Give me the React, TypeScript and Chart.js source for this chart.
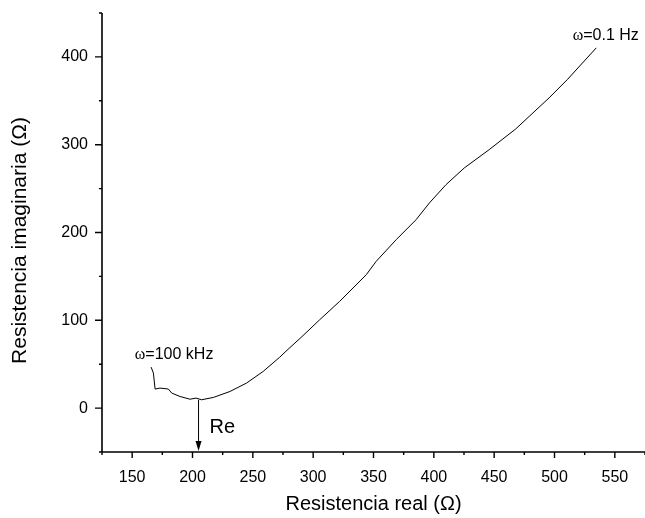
import React, { useEffect, useRef } from 'react';
import { Chart, registerables } from 'chart.js';

Chart.register(...registerables);

// Nyquist data: real part (Ω) and imaginary part (Ω)
const reValues = [165.7, 167.6, 169.0, 173.1, 180.0, 182.8, 189.7, 198.0, 202.9, 207.5, 217.2, 231.0, 244.8, 258.5, 272.3, 279.2, 290.0, 305.4, 321.9, 344.0, 352.2, 368.8, 385.3, 396.3, 410.1, 425.2, 445.9, 467.9, 495.5, 510.6, 534.6];
const imValues = [46.7, 39.9, 21.7, 22.8, 21.7, 17.1, 13.2, 10.1, 11.4, 9.5, 12.1, 18.9, 28.5, 41.7, 58.0, 67.0, 80.5, 100.6, 121.5, 151.9, 167.1, 191.8, 214.6, 233.6, 254.5, 273.5, 294.4, 318.0, 353.3, 374.1, 410.3];

const xMin = 125;
const xMax = 575;
const yMin = -50;
const yMax = 450;
const xMajorTicks = [150, 200, 250, 300, 350, 400, 450, 500, 550];
const xMinorTicks = [125, 175, 225, 275, 325, 375, 425, 475, 525, 575];
const yMajorTicks = [0, 100, 200, 300, 400];
const yMinorTicks = [-50, 50, 150, 250, 350, 450];

const reIntercept = 205;
const reInterceptIm = 9.5;
const reLabel = 'Re';
const highFreqLabel = { sym: 'ω', text: '=100 kHz', x: 152.2, y: 56.2 };
const lowFreqLabel = { sym: 'ω', text: '=0.1 Hz', x: 515.1, y: 418.7 };

const xTitle = 'Resistencia real (Ω)';
const yTitle = 'Resistencia imaginaria (Ω)';

const SANS = "'Liberation Sans', Arial, sans-serif";
const SERIF = "'Liberation Serif', 'Times New Roman', serif";

const axesPlugin = {
  id: 'originAxes',
  afterDraw(chart: any) {
    const { ctx } = chart;
    const xs = chart.scales.x;
    const ys = chart.scales.y;
    const left = xs.getPixelForValue(xMin);
    const right = xs.getPixelForValue(xMax);
    const bottom = ys.getPixelForValue(yMin);
    const top = ys.getPixelForValue(yMax);
    ctx.save();
    ctx.strokeStyle = '#000';
    ctx.lineWidth = 1.6;
    ctx.beginPath();
    ctx.moveTo(left, bottom);
    ctx.lineTo(right, bottom);
    ctx.moveTo(left, bottom);
    ctx.lineTo(left, top);
    ctx.stroke();

    ctx.lineWidth = 1.4;
    ctx.beginPath();
    xMajorTicks.forEach((v) => {
      const px = xs.getPixelForValue(v);
      ctx.moveTo(px, bottom);
      ctx.lineTo(px, bottom + 6);
    });
    xMinorTicks.forEach((v) => {
      const px = xs.getPixelForValue(v);
      ctx.moveTo(px, bottom);
      ctx.lineTo(px, bottom + 3);
    });
    yMajorTicks.forEach((v) => {
      const py = ys.getPixelForValue(v);
      ctx.moveTo(left, py);
      ctx.lineTo(left - 7, py);
    });
    yMinorTicks.forEach((v) => {
      const py = ys.getPixelForValue(v);
      ctx.moveTo(left, py);
      ctx.lineTo(left - 3, py);
    });
    ctx.stroke();

    // Arrow marking Re intercept
    const ax = xs.getPixelForValue(reIntercept);
    const ay0 = ys.getPixelForValue(reInterceptIm);
    ctx.lineWidth = 1;
    ctx.beginPath();
    ctx.moveTo(ax, ay0);
    ctx.lineTo(ax, bottom - 9);
    ctx.stroke();
    ctx.fillStyle = '#000';
    ctx.beginPath();
    ctx.moveTo(ax - 3, bottom - 11);
    ctx.lineTo(ax + 3, bottom - 11);
    ctx.lineTo(ax, bottom - 1);
    ctx.closePath();
    ctx.fill();

    ctx.font = `20px ${SANS}`;
    ctx.textAlign = 'left';
    ctx.textBaseline = 'alphabetic';
    ctx.fillText(reLabel, ax + 11, bottom - 19);

    [highFreqLabel, lowFreqLabel].forEach((lab) => {
      const lx = xs.getPixelForValue(lab.x);
      const ly = ys.getPixelForValue(lab.y);
      ctx.font = `16px ${SERIF}`;
      ctx.fillText(lab.sym, lx, ly);
      const w = ctx.measureText(lab.sym).width;
      ctx.font = `16px ${SANS}`;
      ctx.fillText(lab.text, lx + w, ly);
    });

    // Y axis title
    ctx.save();
    ctx.translate(20, (top + bottom) / 2 + 8);
    ctx.rotate(-Math.PI / 2);
    ctx.font = `21px ${SANS}`;
    ctx.textAlign = 'center';
    ctx.textBaseline = 'middle';
    ctx.fillText(yTitle, 0, 0);
    ctx.restore();

    ctx.restore();
  },
};

export default function App() {
  const canvasRef = useRef<HTMLCanvasElement | null>(null);

  useEffect(() => {
    if (!canvasRef.current) return;
    const points = reValues.map((x, i) => ({ x, y: imValues[i] }));
    const chart = new Chart(canvasRef.current, {
      type: 'scatter',
      data: {
        datasets: [
          {
            data: points,
            showLine: true,
            borderColor: '#000',
            borderWidth: 1,
            pointRadius: 0,
            tension: 0,
          },
        ],
      },
      options: {
        animation: false,
        responsive: false,
        devicePixelRatio: 1,
        layout: { padding: { top: 13, right: 0, left: 0, bottom: 0 } },
        plugins: { legend: { display: false }, tooltip: { enabled: false } },
        scales: {
          x: {
            type: 'linear',
            min: xMin,
            max: xMax,
            grid: { display: false, drawTicks: false },
            border: { display: false },
            afterBuildTicks: (scale: any) => {
              scale.ticks = xMajorTicks.map((v) => ({ value: v }));
            },
            afterFit: (scale: any) => {
              scale.height = 66;
              scale.paddingLeft = 0;
              scale.paddingRight = 0;
            },
            ticks: {
              color: '#000',
              padding: 16,
              maxRotation: 0,
              autoSkip: false,
              font: { family: SANS, size: 16 },
            },
            title: {
              display: true,
              text: xTitle,
              color: '#000',
              font: { family: SANS, size: 20 },
              padding: { top: 0, bottom: 2 },
            },
          },
          y: {
            type: 'linear',
            min: yMin,
            max: yMax,
            grid: { display: false, drawTicks: false },
            border: { display: false },
            afterBuildTicks: (scale: any) => {
              scale.ticks = yMajorTicks.map((v) => ({ value: v }));
            },
            afterFit: (scale: any) => {
              scale.width = 102;
              scale.paddingTop = 0;
              scale.paddingBottom = 0;
            },
            ticks: {
              color: '#000',
              padding: 14,
              autoSkip: false,
              font: { family: SANS, size: 16 },
            },
            title: { display: false },
          },
        },
      },
      plugins: [axesPlugin],
    });
    return () => chart.destroy();
  }, []);

  return (
    <div style={{ position: 'absolute', left: 0, top: 0, width: 645, height: 518, background: '#fff' }}>
      <canvas ref={canvasRef} width={645} height={518} style={{ width: 645, height: 518, display: 'block' }} />
    </div>
  );
}
